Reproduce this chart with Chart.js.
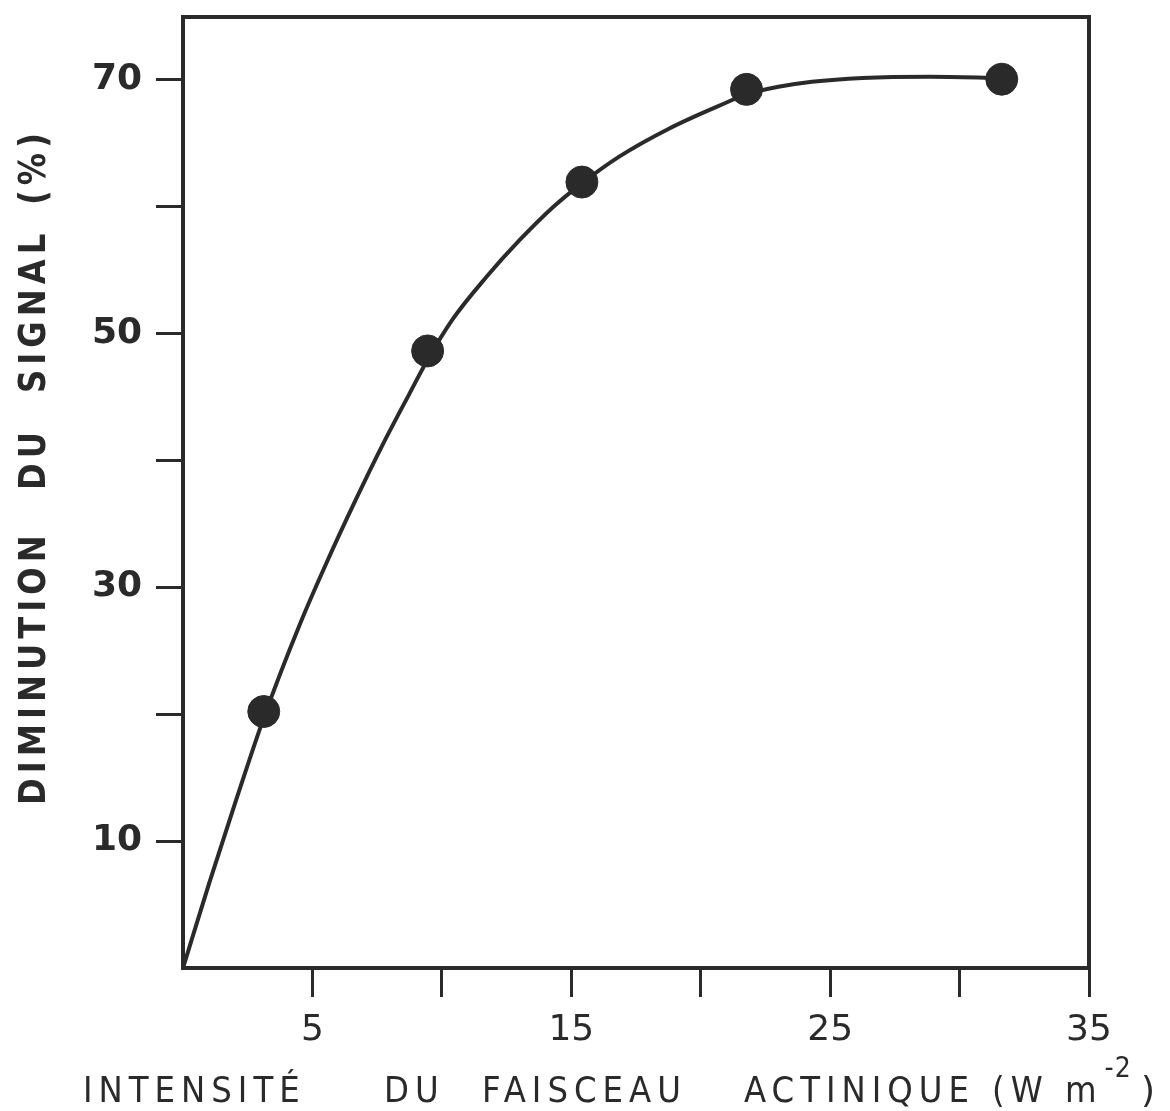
<!DOCTYPE html>
<html lang="fr">
<head>
<meta charset="utf-8">
<title>Diminution du signal</title>
<script src="https://cdn.jsdelivr.net/npm/chart.js@4.4.1/dist/chart.umd.min.js"></script>
<style>
  html, body { margin: 0; padding: 0; background: #fff; }
  #wrap { width: 1170px; height: 1111px; position: relative; }
</style>
</head>
<body>
<div id="wrap"><canvas id="chart"></canvas></div>
<script>
// mesures
const dotX = [3.12, 9.45, 15.41, 21.77, 31.63];
const dotY = [20.2, 48.6, 61.9, 69.2, 70.0];

// courbe tracée à la main
const curveX = [0, 1.0, 2.0, 3.12, 4.5, 5.52, 6.68, 7.71, 8.74, 9.45, 10.42, 11.71, 12.99, 14.28, 15.41, 16.85, 18.77, 20.7, 21.77, 23.0, 24.3, 26.25, 28.86, 31.63];
const curveY = [0, 6.6, 12.9, 19.7, 27.0, 31.8, 36.9, 41.2, 45.2, 47.9, 51.1, 54.4, 57.3, 59.9, 61.8, 63.9, 66.1, 67.9, 68.8, 69.4, 69.8, 70.1, 70.2, 70.1];

// axes
const xLabeled = [5, 15, 25, 35];
const yLabeled = [10, 30, 50, 70];
const xTitleWords = ["INTENSITÉ", "DU", "FAISCEAU", "ACTINIQUE", "(W m"];
const xTitleSup = "-2";
const xTitleEnd = ")";
const yTitleWords = ["DIMINUTION", "DU", "SIGNAL", "(%)"];

const ink = "#2a2a2a";

// start of each title word along its axis
const xWordStarts = [83, 384, 482, 744, 992];
const yWordStarts = [805, 490, 393, 205];

function toPoints(xs, ys) {
	return xs.map((x, i) => ({ x: x, y: ys[i] }));
}

function hideZero(ctx) {
	return ctx.tick && ctx.tick.value === 0 ? "rgba(0,0,0,0)" : ink;
}

// lettering: narrowed glyphs with open spacing, returns the drawn width
function letter(ctx, text, x, y, squeeze, spacing) {
	ctx.save();
	ctx.translate(x, y);
	ctx.scale(squeeze, 1);
	ctx.letterSpacing = spacing / squeeze + "px";
	ctx.fillText(text, 0, 0);
	const w = ctx.measureText(text).width * squeeze;
	ctx.restore();
	return w;
}

const frameAndTitles = {
	id: "frameAndTitles",
	afterDraw(chart) {
		const ctx = chart.ctx;
		const a = chart.chartArea;
		ctx.save();

		// top and right sides of the frame
		ctx.strokeStyle = ink;
		ctx.lineWidth = 4;
		ctx.lineCap = "square";
		ctx.beginPath();
		ctx.moveTo(a.left, a.top);
		ctx.lineTo(a.right, a.top);
		ctx.lineTo(a.right, a.bottom);
		ctx.stroke();

		ctx.fillStyle = ink;
		ctx.textBaseline = "alphabetic";
		ctx.textAlign = "left";

		// x title, superscript exponent at the end
		ctx.font = '36px "DejaVu Sans"';
		let end = 0;
		xTitleWords.forEach((word, i) => {
			end = xWordStarts[i] + letter(ctx, word, xWordStarts[i], 1102, 0.9, 6);
		});
		ctx.font = '28px "DejaVu Sans"';
		letter(ctx, xTitleSup, end + 2, 1077, 0.9, 1);
		ctx.font = '36px "DejaVu Sans"';
		ctx.fillText(xTitleEnd, 1141, 1102);

		// y title, reading upwards
		ctx.translate(45, 0);
		ctx.rotate(-Math.PI / 2);
		ctx.font = 'bold 38px "DejaVu Sans"';
		yTitleWords.forEach((word, i) => {
			letter(ctx, word, -yWordStarts[i], 0, 0.85, 5);
		});

		ctx.restore();
	},
};

new Chart(document.getElementById("chart"), {
	type: "scatter",
	data: {
		datasets: [
			{
				label: "points",
				data: toPoints(dotX, dotY),
				backgroundColor: ink,
				borderColor: ink,
				pointRadius: 16,
				pointHoverRadius: 16,
				order: 0,
			},
			{
				label: "courbe",
				data: toPoints(curveX, curveY),
				showLine: true,
				borderColor: ink,
				borderWidth: 4,
				pointRadius: 0,
				pointHoverRadius: 0,
				cubicInterpolationMode: "monotone",
				order: 1,
			},
		],
	},
	options: {
		responsive: true,
		maintainAspectRatio: false,
		animation: false,
		layout: { padding: { top: 11, right: 81, left: 0, bottom: 0 } },
		plugins: {
			legend: { display: false },
			tooltip: { enabled: false },
		},
		scales: {
			x: {
				type: "linear",
				min: 0,
				max: 35,
				afterFit(scale) {
					scale.height = 143;
					scale.paddingLeft = 0;
					scale.paddingRight = 0;
				},
				border: { display: true, color: ink, width: 4 },
				grid: {
					drawOnChartArea: false,
					drawTicks: true,
					tickLength: 29,
					tickWidth: 3,
					tickColor: hideZero,
				},
				ticks: {
					stepSize: 5,
					includeBounds: false,
					maxRotation: 0,
					padding: 12,
					color: ink,
					font: { family: "DejaVu Sans", size: 36 },
					callback: (v) => (xLabeled.includes(v) ? String(v) : ""),
				},
			},
			y: {
				type: "linear",
				min: 0,
				max: 74.9,
				afterFit(scale) {
					scale.width = 183;
					scale.paddingTop = 0;
					scale.paddingBottom = 0;
				},
				border: { display: true, color: ink, width: 4 },
				grid: {
					drawOnChartArea: false,
					drawTicks: true,
					tickLength: 27,
					tickWidth: 3,
					tickColor: hideZero,
				},
				ticks: {
					stepSize: 10,
					includeBounds: false,
					padding: 14,
					color: ink,
					font: { family: "DejaVu Sans", size: 36, weight: "bold" },
					callback: (v) => (yLabeled.includes(v) ? String(v) : ""),
				},
			},
		},
	},
	plugins: [frameAndTitles],
});
</script>
</body>
</html>
